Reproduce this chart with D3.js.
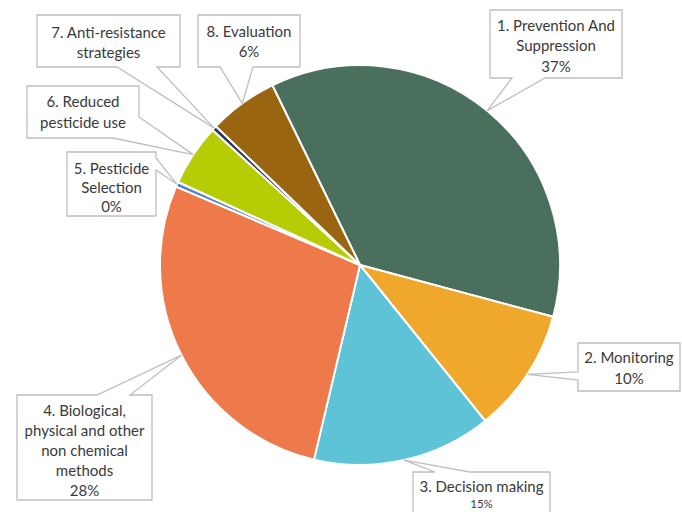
<!DOCTYPE html>
<html><head><meta charset="utf-8">
<script src="https://cdn.jsdelivr.net/npm/d3@7"></script>
<style>body{margin:0;background:#fff;}svg{display:block;}</style>
</head><body>
<svg id="chart" width="682" height="512"></svg>
<script>
// Data
const categories = ["1. Prevention And Suppression","2. Monitoring","3. Decision making","4. Biological, physical and other non chemical methods","5. Pesticide Selection","6. Reduced pesticide use","7. Anti-resistance strategies","8. Evaluation"];
const values = [36.5, 10.1, 14.5, 27.8, 0.4, 5.0, 0.4, 5.6];
const percentLabels = ["37%","10%","15%","28%","0%","","","6%"];
const colors = ["#4A6F5D","#F0A82C","#5EC3D7","#EE7A4C","#4F89C4","#B6CC05","#2E3A55","#996510"];

// Label layout (callout boxes)
const labelLines = [
  ["1. Prevention And","Suppression","37%"],
  ["2. Monitoring","10%"],
  ["3. Decision making","15%"],
  ["4. Biological,","physical and other","non chemical","methods","28%"],
  ["5. Pesticide","Selection","0%"],
  ["6. Reduced","pesticide use"],
  ["7. Anti-resistance","strategies"],
  ["8. Evaluation","6%"]
];
const boxes = [
  {x:490,y:10,w:132,h:68,side:"bottom",a:512,b:545,ly:[25,45,66]},
  {x:578,y:343,w:102,h:48,side:"left",a:372,b:380,ly:[357,378]},
  {x:413,y:472,w:137,h:45,side:"top",a:435,b:470,ly:[486,503],small:true},
  {x:17,y:395,w:135,h:105,side:"top",a:97,b:130,ly:[410,430,450,470,490]},
  {x:67,y:152,w:89,h:64,side:"right",a:158,b:170,ly:[168,187,206]},
  {x:27,y:86,w:112,h:52,side:"br",a:117,b:113,ly:[101,122]},
  {x:37,y:15,w:143,h:52,side:"bottom",a:117,b:157,ly:[32,52]},
  {x:198,y:15,w:102,h:52,side:"bottom",a:220,b:253,ly:[31,51]}
];

const cx = 360, cy = 265, R = 200;
const start = -26 * Math.PI / 180;
const svg = d3.select("#chart");
const pie = d3.pie().sort(null).value(d => d).startAngle(start).endAngle(start + 2*Math.PI);
const arcs = pie(values);
const arc = d3.arc().innerRadius(0).outerRadius(R);
const g = svg.append("g").attr("transform", `translate(${cx},${cy})`);
g.selectAll("path").data(arcs).join("path")
  .attr("d", arc)
  .attr("fill", (d,i) => colors[i])
  .attr("stroke", "#fff").attr("stroke-width", 2).attr("stroke-linejoin","round");

function calloutPath(b, tip) {
  const x0=b.x, y0=b.y, x1=b.x+b.w, y1=b.y+b.h;
  const p = d3.path();
  p.moveTo(x0,y0);
  if (b.side==="top") { p.lineTo(b.a,y0); p.lineTo(tip[0],tip[1]); p.lineTo(b.b,y0); }
  p.lineTo(x1,y0);
  if (b.side==="right") { p.lineTo(x1,b.a); p.lineTo(tip[0],tip[1]); p.lineTo(x1,b.b); }
  if (b.side==="br") { p.lineTo(x1,b.a); p.lineTo(tip[0],tip[1]); p.lineTo(b.b,y1); }
  else p.lineTo(x1,y1);
  if (b.side==="bottom") { p.lineTo(b.b,y1); p.lineTo(tip[0],tip[1]); p.lineTo(b.a,y1); }
  p.lineTo(x0,y1);
  if (b.side==="left") { p.lineTo(x0,b.b); p.lineTo(tip[0],tip[1]); p.lineTo(x0,b.a); }
  p.closePath();
  return p.toString();
}

const lab = svg.append("g");
arcs.forEach((d,i) => {
  const mid = (d.startAngle + d.endAngle)/2;
  const tip = [cx + R*Math.sin(mid), cy - R*Math.cos(mid)];
  const b = boxes[i];
  lab.append("path").attr("d", calloutPath(b, tip))
    .attr("fill","#fff").attr("stroke","#BFBFBF").attr("stroke-width",1.3);
  const lines = labelLines[i];
  lines.forEach((t,k) => {
    const small = b.small && k===lines.length-1;
    lab.append("text")
      .attr("x", b.x + b.w/2).attr("y", b.ly[k])
      .attr("text-anchor","middle").attr("dominant-baseline","central")
      .attr("font-family","Lato, 'Open Sans', sans-serif")
      .attr("font-size", small ? 11.5 : 15)
      .attr("fill","#3A3A3A")
      .text(t);
  });
});
</script>
</body></html>
